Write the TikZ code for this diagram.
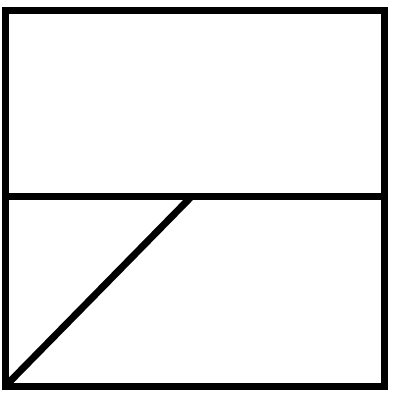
\documentclass[tikz,border=0pt]{standalone}
\usepackage{tikz}
\usetikzlibrary{calc}

\begin{document}
\begin{tikzpicture}[x=0.025cm, y=0.025cm]
    \tikzset{frame/.style={draw=black, line width=7*0.025cm}}
    \useasboundingbox (0,0) rectangle (400,402);
    \coordinate (BL) at (5,15.5);
    \coordinate (TR) at (384,391.5);
    \coordinate (ML) at (5,205);
    \coordinate (MR) at (384,205);
    \coordinate (Apex) at (191,205);
    \draw[frame] (BL) rectangle (TR);
    \draw[frame] (ML) -- (MR);
    \draw[frame] (BL) -- (Apex);
  \end{tikzpicture}
\end{document}
